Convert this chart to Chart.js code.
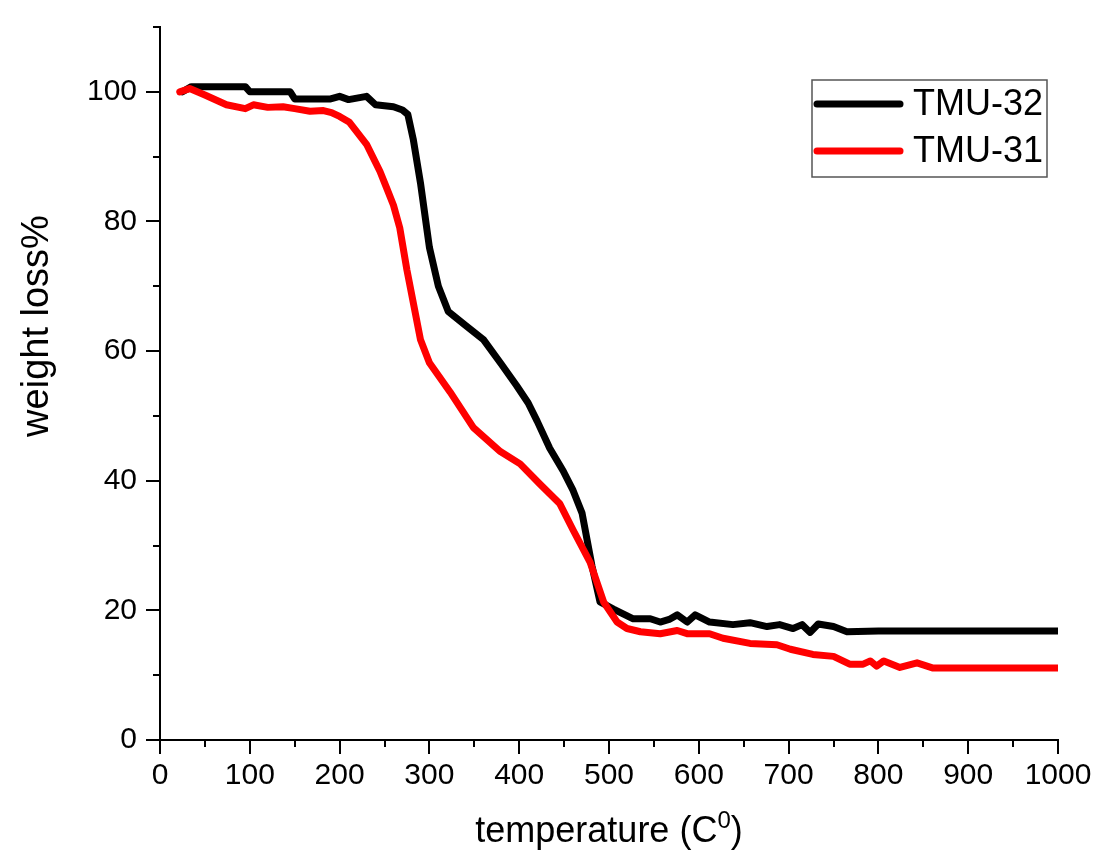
<!DOCTYPE html>
<html>
<head>
<meta charset="utf-8">
<script src="https://cdn.jsdelivr.net/npm/chart.js@4/dist/chart.umd.min.js"></script>
<style>
  body { margin: 0; background: #fff; }
  canvas { display: block; }
</style>
</head>
<body>
<canvas id="tgaChart" width="1098" height="861"></canvas>
<script>
// TGA curves, temperature in C and remaining weight in %
const tmu32Temp = [25, 35, 95, 100, 145, 150, 190, 200, 210, 230, 240, 260, 270, 276, 282, 290, 297, 300, 310, 321,
    340, 360, 380, 397, 410, 420, 434, 449, 460, 470, 481, 490, 505, 527, 546, 557, 567, 576, 587, 596,
    612, 638, 657, 676, 690, 705, 715, 724, 733, 750, 765, 800, 1000];
const tmu32Weight = [100, 100.8, 100.8, 100, 100, 98.9, 98.9, 99.3, 98.8, 99.3, 98, 97.7, 97.2, 96.5, 92.7, 86, 79, 76, 70, 66.1,
    64, 61.8, 58, 54.7, 52, 49.2, 45, 41.5, 38.5, 35, 26.9, 21.3, 20.2, 18.7, 18.7, 18.2, 18.6, 19.3, 18.2, 19.3,
    18.2, 17.8, 18.1, 17.5, 17.8, 17.2, 17.8, 16.6, 17.9, 17.5, 16.7, 16.8, 16.8];

const tmu31Temp = [22, 33, 50, 74, 95, 104, 120, 137, 150, 167, 182, 191, 200, 211, 230, 245, 252, 260, 267, 275,
    290, 300, 323, 349, 379, 401, 423, 445, 460, 479, 494, 509, 520, 535, 557, 576, 587, 612, 627, 657,
    687, 702, 727, 750, 768, 783, 791, 798, 806, 824, 843, 861, 880, 1000];
const tmu31Weight = [100, 100.5, 99.5, 98, 97.4, 98, 97.6, 97.7, 97.4, 97, 97.1, 96.8, 96.2, 95.3, 91.9, 87.7, 85.3, 82.5, 79, 72.5,
    61.8, 58.2, 53.7, 48.2, 44.5, 42.6, 39.5, 36.5, 32.4, 27.4, 21.3, 18.2, 17.2, 16.7, 16.4, 16.9, 16.4, 16.4, 15.7, 14.9,
    14.7, 14, 13.2, 12.9, 11.7, 11.7, 12.2, 11.4, 12.2, 11.2, 11.9, 11.1, 11.1, 11.1];

const xMajorTicks = [0, 100, 200, 300, 400, 500, 600, 700, 800, 900, 1000];
const xMinorTicks = [50, 150, 250, 350, 450, 550, 650, 750, 850, 950];
const yMajorTicks = [0, 20, 40, 60, 80, 100];
const yMinorTicks = [10, 30, 50, 70, 90, 110];

const xTitle = 'temperature (C';
const xTitleSup = '0';
const yTitle = 'weight loss%';

const FONT = "'Liberation Sans', Arial, 'DejaVu Sans', sans-serif";

function toPoints(xs, ys) {
    return xs.map((x, i) => ({ x, y: ys[i] }));
}

// outward tick marks, long for labelled values and short in between
const tickMarks = {
    id: 'tickMarks',
    afterDraw(chart) {
        const { ctx, chartArea } = chart;
        const { x, y } = chart.scales;
        ctx.save();
        ctx.strokeStyle = '#000';
        ctx.lineWidth = 2;
        ctx.beginPath();
        xMajorTicks.forEach(v => {
            const px = Math.round(x.getPixelForValue(v));
            ctx.moveTo(px, chartArea.bottom);
            ctx.lineTo(px, chartArea.bottom + 14);
        });
        xMinorTicks.forEach(v => {
            const px = Math.round(x.getPixelForValue(v));
            ctx.moveTo(px, chartArea.bottom);
            ctx.lineTo(px, chartArea.bottom + 7);
        });
        yMajorTicks.forEach(v => {
            const py = Math.round(y.getPixelForValue(v));
            ctx.moveTo(chartArea.left, py);
            ctx.lineTo(chartArea.left - 14, py);
        });
        yMinorTicks.forEach(v => {
            const py = Math.round(y.getPixelForValue(v));
            ctx.moveTo(chartArea.left, py);
            ctx.lineTo(chartArea.left - 7, py);
        });
        ctx.stroke();
        ctx.restore();
    }
};

// axis titles, the x one has a raised 0 after the C
const axisTitles = {
    id: 'axisTitles',
    afterDraw(chart) {
        const { ctx, chartArea } = chart;
        ctx.save();
        ctx.fillStyle = '#000';
        ctx.textBaseline = 'alphabetic';

        const mainFont = '36px ' + FONT;
        const supFont = '24px ' + FONT;
        ctx.font = mainFont;
        const w1 = ctx.measureText(xTitle).width;
        const w3 = ctx.measureText(')').width;
        ctx.font = supFont;
        const w2 = ctx.measureText(xTitleSup).width;
        let cx = (chartArea.left + chartArea.right) / 2 - (w1 + w2 + w3) / 2;
        const base = 842;
        ctx.textAlign = 'left';
        ctx.font = mainFont;
        ctx.fillText(xTitle, cx, base);
        cx += w1;
        ctx.font = supFont;
        ctx.fillText(xTitleSup, cx, base - 14);
        cx += w2;
        ctx.font = mainFont;
        ctx.fillText(')', cx, base);

        ctx.translate(48, 326);
        ctx.rotate(-Math.PI / 2);
        ctx.font = '38px ' + FONT;
        ctx.textAlign = 'center';
        ctx.fillText(yTitle, 0, 0);
        ctx.restore();
    }
};

// framed legend in the upper right corner of the plot
const boxLegend = {
    id: 'boxLegend',
    afterDraw(chart) {
        const { ctx, chartArea } = chart;
        const left = chartArea.right - 246;
        const top = chartArea.top + 53;
        ctx.save();
        ctx.strokeStyle = '#555';
        ctx.lineWidth = 1.5;
        ctx.strokeRect(left, top, 235, 97);
        chart.data.datasets.forEach((ds, i) => {
            const cy = top + 24 + i * 47;
            ctx.strokeStyle = ds.borderColor;
            ctx.lineWidth = 7;
            ctx.lineCap = 'round';
            ctx.beginPath();
            ctx.moveTo(left + 5, cy);
            ctx.lineTo(left + 88, cy);
            ctx.stroke();
            ctx.fillStyle = '#000';
            ctx.font = '36px ' + FONT;
            ctx.textBaseline = 'middle';
            ctx.fillText(ds.label, left + 101, cy + 1);
        });
        ctx.restore();
    }
};

new Chart(document.getElementById('tgaChart'), {
    type: 'line',
    data: {
        datasets: [
            {
                label: 'TMU-32',
                data: toPoints(tmu32Temp, tmu32Weight),
                borderColor: '#000000',
                borderWidth: 7,
                pointRadius: 0,
                tension: 0,
                borderJoinStyle: 'round',
                borderCapStyle: 'round',
                order: 2
            },
            {
                label: 'TMU-31',
                data: toPoints(tmu31Temp, tmu31Weight),
                borderColor: '#ff0000',
                borderWidth: 7,
                pointRadius: 0,
                tension: 0,
                borderJoinStyle: 'round',
                borderCapStyle: 'round',
                order: 1
            }
        ]
    },
    options: {
        responsive: false,
        animation: false,
        layout: { padding: { left: 0, top: 15, right: 40, bottom: 0 } },
        plugins: { legend: { display: false }, tooltip: { enabled: false } },
        scales: {
            x: {
                type: 'linear',
                min: 0,
                max: 1000,
                afterBuildTicks: s => { s.ticks = xMajorTicks.map(v => ({ value: v })); },
                afterFit: s => { s.height = 121; },
                ticks: {
                    color: '#000',
                    padding: 4,
                    maxRotation: 0,
                    font: { family: FONT, size: 30 },
                    callback: v => String(v)
                },
                grid: { display: true, drawOnChartArea: false, drawTicks: true, tickLength: 14, color: 'rgba(0,0,0,0)' },
                border: { display: true, color: '#000', width: 2 }
            },
            y: {
                min: 0,
                max: 110,
                afterBuildTicks: s => { s.ticks = yMajorTicks.map(v => ({ value: v })); },
                afterFit: s => { s.width = 160; },
                ticks: {
                    color: '#000',
                    padding: 9,
                    font: { family: FONT, size: 30 },
                    callback: v => String(v)
                },
                grid: { display: true, drawOnChartArea: false, drawTicks: true, tickLength: 14, color: 'rgba(0,0,0,0)' },
                border: { display: true, color: '#000', width: 2 }
            }
        }
    },
    plugins: [tickMarks, axisTitles, boxLegend]
});
</script>
</body>
</html>
